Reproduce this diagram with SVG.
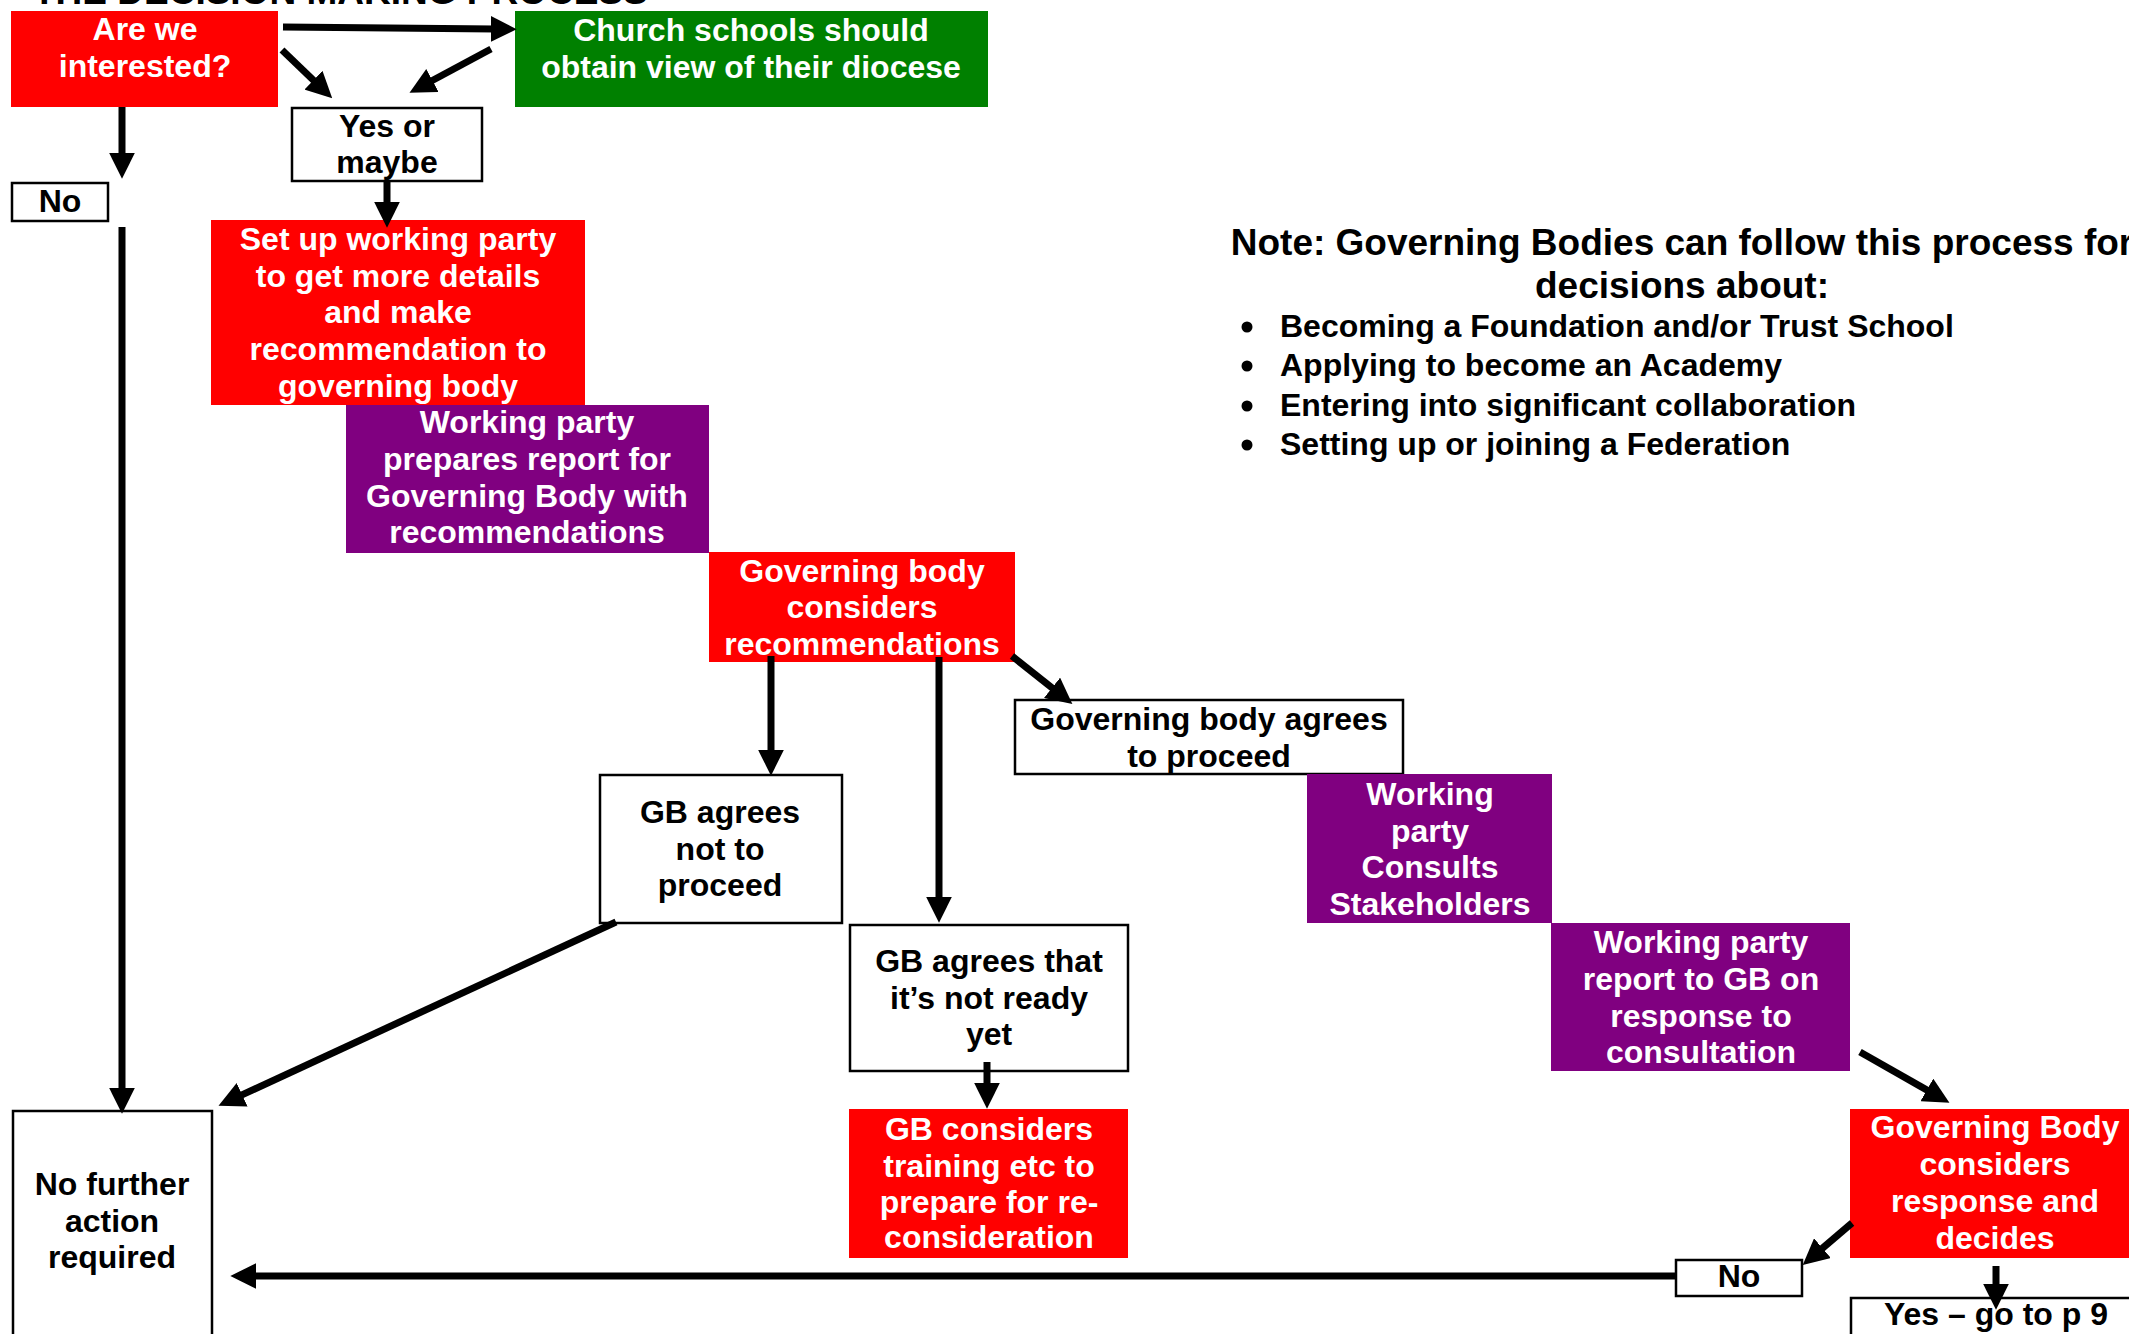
<svg xmlns="http://www.w3.org/2000/svg" width="2129" height="1334" viewBox="0 0 2129 1334">
<defs>
<style>
text{font-family:"Liberation Sans",Arial,sans-serif;font-weight:bold;font-size:32px;text-anchor:middle}
.w{fill:#fff}
.k{fill:#000}
.red{fill:#ff0000}
.pur{fill:#800080}
.grn{fill:#008000}
.box{fill:#fff;stroke:#000;stroke-width:2.5}
.c{fill:none;stroke:#000;stroke-width:7;marker-end:url(#ah)}
.note{font-size:37px}
.bl{text-anchor:start}
</style>
<marker id="ah" markerUnits="userSpaceOnUse" markerWidth="26" markerHeight="26" refX="4" refY="12" orient="auto" viewBox="0 0 24 24">
<path d="M0,0 L24,12 L0,24 Z" fill="#000"/>
</marker>
</defs>
<rect width="2129" height="1334" fill="#fff"/>
<text x="33" y="4" class="k note" style="text-anchor:start">THE DECISION MAKING PROCESS</text>

<g id="n-interested"><rect x="11" y="11" width="267" height="96" class="red"/><text x="145" y="40" class="w">Are we</text><text x="145" y="77" class="w">interested?</text></g>
<g id="n-church"><rect x="515" y="11" width="473" height="96" class="grn"/><text x="751" y="41" class="w">Church schools should</text><text x="751" y="78" class="w">obtain view of their diocese</text></g>
<g id="n-yes"><rect x="292" y="108" width="190" height="73" class="box"/><text x="387" y="137" class="k">Yes or</text><text x="387" y="173" class="k">maybe</text></g>
<g id="n-no1"><rect x="12" y="183" width="96" height="38" class="box"/><text x="60" y="212" class="k">No</text></g>
<g id="n-setup"><rect x="211" y="220" width="374" height="185" class="red"/><text x="398" y="250" class="w">Set up working party</text><text x="398" y="287" class="w">to get more details</text><text x="398" y="323" class="w">and make</text><text x="398" y="360" class="w">recommendation to</text><text x="398" y="397" class="w">governing body</text></g>
<g id="n-prepares"><rect x="346" y="405" width="363" height="148" class="pur"/><text x="527" y="433" class="w">Working party</text><text x="527" y="470" class="w">prepares report for</text><text x="527" y="507" class="w">Governing Body with</text><text x="527" y="543" class="w">recommendations</text></g>
<g id="n-gbconsiders"><rect x="709" y="552" width="306" height="110" class="red"/><text x="862" y="582" class="w">Governing body</text><text x="862" y="618" class="w">considers</text><text x="862" y="655" class="w">recommendations</text></g>
<g id="n-agrees"><rect x="1015" y="700" width="388" height="74" class="box"/><text x="1209" y="730" class="k">Governing body agrees</text><text x="1209" y="767" class="k">to proceed</text></g>
<g id="n-consults"><rect x="1307" y="774" width="245" height="149" class="pur"/><text x="1430" y="805" class="w">Working</text><text x="1430" y="842" class="w">party</text><text x="1430" y="878" class="w">Consults</text><text x="1430" y="915" class="w">Stakeholders</text></g>
<g id="n-report"><rect x="1551" y="923" width="299" height="148" class="pur"/><text x="1701" y="953" class="w">Working party</text><text x="1701" y="990" class="w">report to GB on</text><text x="1701" y="1027" class="w">response to</text><text x="1701" y="1063" class="w">consultation</text></g>
<g id="n-decides"><rect x="1850" y="1109" width="290" height="149" class="red"/><text x="1995" y="1138" class="w">Governing Body</text><text x="1995" y="1175" class="w">considers</text><text x="1995" y="1212" class="w">response and</text><text x="1995" y="1249" class="w">decides</text></g>
<g id="n-no2"><rect x="1676" y="1260" width="126" height="36" class="box"/><text x="1739" y="1287" class="k">No</text></g>
<g id="n-yesp9"><rect x="1851" y="1298" width="290" height="50" class="box"/><text x="1996" y="1325" class="k">Yes – go to p 9</text></g>
<g id="n-notproceed"><rect x="600" y="775" width="242" height="148" class="box"/><text x="720" y="823" class="k">GB agrees</text><text x="720" y="860" class="k">not to</text><text x="720" y="896" class="k">proceed</text></g>
<g id="n-notready"><rect x="850" y="925" width="278" height="146" class="box"/><text x="989" y="972" class="k">GB agrees that</text><text x="989" y="1009" class="k">it’s not ready</text><text x="989" y="1045" class="k">yet</text></g>
<g id="n-training"><rect x="849" y="1109" width="279" height="149" class="red"/><text x="989" y="1140" class="w">GB considers</text><text x="989" y="1177" class="w">training etc to</text><text x="989" y="1213" class="w">prepare for re-</text><text x="989" y="1248" class="w">consideration</text></g>
<g id="n-nofurther"><rect x="13" y="1111" width="199" height="240" class="box"/><text x="112" y="1195" class="k">No further</text><text x="112" y="1232" class="k">action</text><text x="112" y="1268" class="k">required</text></g>

<g id="note">
<text x="1682" y="255" class="k note">Note: Governing Bodies can follow this process for</text>
<text x="1682" y="298" class="k note">decisions about:</text>
<circle cx="1247" cy="327" r="5.5" fill="#000"/><text x="1280" y="337" class="k bl">Becoming a Foundation and/or Trust School</text>
<circle cx="1247" cy="366" r="5.5" fill="#000"/><text x="1280" y="376" class="k bl">Applying to become an Academy</text>
<circle cx="1247" cy="406" r="5.5" fill="#000"/><text x="1280" y="416" class="k bl">Entering into significant collaboration</text>
<circle cx="1247" cy="445" r="5.5" fill="#000"/><text x="1280" y="455" class="k bl">Setting up or joining a Federation</text>
</g>

<g id="connectors">
<path class="c" d="M283,27 L495,29"/>
<path class="c" d="M282,50 L316.6,83.2"/>
<path class="c" d="M491,49 L428.6,82.5"/>
<path class="c" d="M122,107 L122,157"/>
<path class="c" d="M122,227 L122,1092"/>
<path class="c" d="M387,180 L387,206"/>
<path class="c" d="M771,656 L771,754"/>
<path class="c" d="M939,657 L939,901"/>
<path class="c" d="M1012,656 L1055.4,690.5"/>
<path class="c" d="M616,922 L238.2,1096.6"/>
<path class="c" d="M987,1062 L987,1087"/>
<path class="c" d="M1860,1052 L1930.6,1092.1"/>
<path class="c" d="M1852,1223 L1819.2,1251"/>
<path class="c" d="M1996,1266 L1996,1288"/>
<path class="c" d="M1675,1276 L252,1276"/>
</g>
</svg>
